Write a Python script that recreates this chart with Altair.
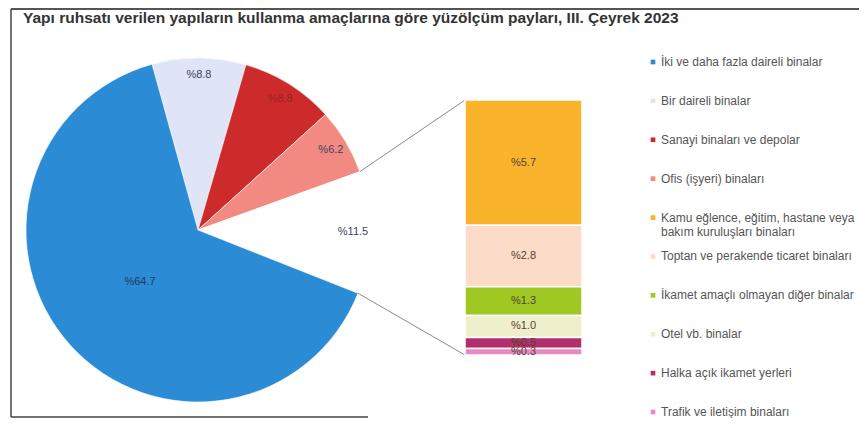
import math
import altair as alt
import pandas as pd

# ---------------- data ----------------
title_text = "Yapı ruhsatı verilen yapıların kullanma amaçlarına göre yüzölçüm payları, III. Çeyrek 2023"

categories = [
    "İki ve daha fazla daireli binalar",
    "Bir daireli binalar",
    "Sanayi binaları ve depolar",
    "Ofis (işyeri) binaları",
    "Kamu eğlence, eğitim, hastane veya bakım kuruluşları binaları",
    "Toptan ve perakende ticaret binaları",
    "İkamet amaçlı olmayan diğer binalar",
    "Otel vb. binalar",
    "Halka açık ikamet yerleri",
    "Trafik ve iletişim binaları",
]
shares = [64.7, 8.8, 8.8, 6.2, 5.7, 2.8, 1.3, 1.0, 0.5, 0.3]

other_label = "Diğer"
other_share = 11.5

palette = [
    "#2b8bd5", "#dfe4f6", "#cd2b2b", "#f28a82", "#f9b42c",
    "#fcdcc8", "#9fc823", "#efefcc", "#b32f6b", "#e68ac2",
]

# pie slices clockwise from the top: 1, 2, 3, other, 0
pie_cats = [categories[1], categories[2], categories[3], other_label, categories[0]]
pie_vals = [shares[1], shares[2], shares[3], other_share, shares[0]]

bar_cats = categories[4:]
bar_vals = shares[4:]

pie_df = pd.DataFrame({"cat": pie_cats, "value": pie_vals, "k": list(range(len(pie_cats)))})
bar_df = pd.DataFrame({"cat": bar_cats, "value": bar_vals, "k": list(range(len(bar_cats)))})
leg_df = pd.DataFrame({"cat": categories})

# ---------------- layout ----------------
W, H = 851, 390
CX, CY, R = 190, 202, 172
START_DEG = -15.5
BAR_X0, BAR_X1 = 457, 574
BAR_TOP, BAR_BOTTOM = 72, 327
LEG_X, LEG_TOP, LEG_BOTTOM = 645, 34, 384
FONT = "Liberation Sans"

start = 2 * math.pi + math.radians(START_DEG)
theta_scale = alt.Scale(domain=[0, sum(pie_vals)], range=[start, start + 2 * math.pi])
color_scale = alt.Scale(domain=categories, range=palette)
bar_scale = alt.Scale(domain=[0, sum(bar_vals)], range=[BAR_BOTTOM, BAR_TOP])
leg_scale = alt.Scale(type="point", domain=categories, range=[LEG_TOP, LEG_BOTTOM], padding=0)

# connector end points on the pie edge (end of the third slice and of the "other" slice)
def edge(frac):
    a = math.radians(START_DEG) + 2 * math.pi * frac
    return CX + R * math.sin(a), CY - R * math.cos(a)

tot = sum(pie_vals)
p_up = edge(sum(pie_vals[:3]) / tot)
p_dn = edge(sum(pie_vals[:4]) / tot)

one = pd.DataFrame({"a": [0]})

def rule(x, y, x2, y2, color, width):
    return alt.Chart(one).mark_rule(color=color, strokeWidth=width).encode(
        x=alt.value(x), y=alt.value(y), x2=alt.value(x2), y2=alt.value(y2)
    )

frame = alt.layer(
    rule(3, -19, W, -19, "#555555", 2),
    rule(3, -19, 3, 389, "#444444", 1.5),
    rule(3, 389, 360, 389, "#444444", 1.5),
)

title = alt.Chart(pd.DataFrame({"t": [title_text]})).mark_text(
    align="left", baseline="middle", font=FONT, fontSize=15.5, fontWeight="bold", color="#333333"
).encode(x=alt.value(15), y=alt.value(-10), text="t:N")

connectors = alt.layer(
    rule(p_up[0], p_up[1], BAR_X0, BAR_TOP, "#8a8a8a", 1),
    rule(p_dn[0], p_dn[1], BAR_X0, BAR_BOTTOM, "#8a8a8a", 1),
)

pie = alt.Chart(pie_df).mark_arc(outerRadius=R, stroke="white", strokeWidth=0.6).encode(
    theta=alt.Theta("value:Q", stack=True, scale=theta_scale),
    order=alt.Order("k:Q"),
    color=alt.condition(
        alt.datum.cat == other_label,
        alt.value("white"),
        alt.Color("cat:N", scale=color_scale, legend=None),
    ),
    x=alt.value(CX), y=alt.value(CY),
)

pie_base = alt.Chart(pie_df).transform_calculate(
    label="'%' + format(datum.value, '.1f')"
)

pie_text_outer = pie_base.mark_text(radius=155, font=FONT, fontSize=11).encode(
    theta=alt.Theta("value:Q", stack=True, scale=theta_scale),
    order=alt.Order("k:Q"),
    x=alt.value(CX), y=alt.value(CY),
    text=alt.condition(alt.datum.cat == categories[0], alt.value(""), alt.Text("label:N")),
    color=alt.condition(alt.datum.cat == categories[2], alt.value("#9a2222"),
                        alt.value("#3a4660")),
)

pie_text_inner = pie_base.mark_text(radius=78, font=FONT, fontSize=11, color="#24385a").encode(
    theta=alt.Theta("value:Q", stack=True, scale=theta_scale),
    order=alt.Order("k:Q"),
    x=alt.value(CX), y=alt.value(CY),
    text=alt.condition(alt.datum.cat == categories[0], alt.Text("label:N"), alt.value("")),
)

bar_base = alt.Chart(bar_df).transform_stack(
    stack="value", groupby=[], as_=["y0", "y1"],
    sort=[alt.SortField("k", order="descending")],
)

bar = bar_base.mark_bar(stroke="white", strokeWidth=1.5).encode(
    x=alt.value(BAR_X0), x2=alt.value(BAR_X1),
    y=alt.Y("y0:Q", scale=bar_scale, axis=None), y2="y1:Q",
    color=alt.Color("cat:N", scale=color_scale, legend=None),
)

bar_text = bar_base.transform_calculate(
    mid="(datum.y0 + datum.y1) / 2",
    label="'%' + format(datum.value, '.1f')",
).mark_text(font=FONT, fontSize=11, color="#5a3d33").encode(
    x=alt.value((BAR_X0 + BAR_X1) / 2),
    y=alt.Y("mid:Q", scale=bar_scale, axis=None),
    text="label:N",
)

# hand-built legend (one row per category, long label wrapped after 'veya')
leg_base = alt.Chart(leg_df).transform_calculate(
    cut="indexof(datum.cat, 'veya ')",
).transform_calculate(
    l1="datum.cut > 0 ? substring(datum.cat, 0, datum.cut + 4) : datum.cat",
    l2="datum.cut > 0 ? substring(datum.cat, datum.cut + 5) : ''",
)

leg_sym = leg_base.mark_square(size=22, opacity=1).encode(
    x=alt.value(LEG_X),
    y=alt.Y("cat:N", scale=leg_scale, axis=None),
    color=alt.Color("cat:N", scale=color_scale, legend=None),
)

leg_txt1 = leg_base.mark_text(
    align="left", baseline="middle", font=FONT, fontSize=12, color="#555555"
).encode(x=alt.value(LEG_X + 8), y=alt.Y("cat:N", scale=leg_scale, axis=None), text="l1:N")

leg_txt2 = leg_base.mark_text(
    align="left", baseline="middle", font=FONT, fontSize=12, color="#555555", dy=14
).encode(x=alt.value(LEG_X + 8), y=alt.Y("cat:N", scale=leg_scale, axis=None), text="l2:N")

chart = alt.layer(
    frame, title, pie, pie_text_outer, pie_text_inner, connectors, bar, bar_text,
    leg_sym, leg_txt1, leg_txt2,
).resolve_scale(y="independent").properties(
    width=W, height=H,
    padding={"left": 0, "top": 20, "right": 0, "bottom": 0},
    autosize=alt.AutoSizeParams(type="none"),
    background="white",
).configure_view(strokeWidth=0)

chart.save("out.html", embed_options={"renderer": "svg", "actions": False})
